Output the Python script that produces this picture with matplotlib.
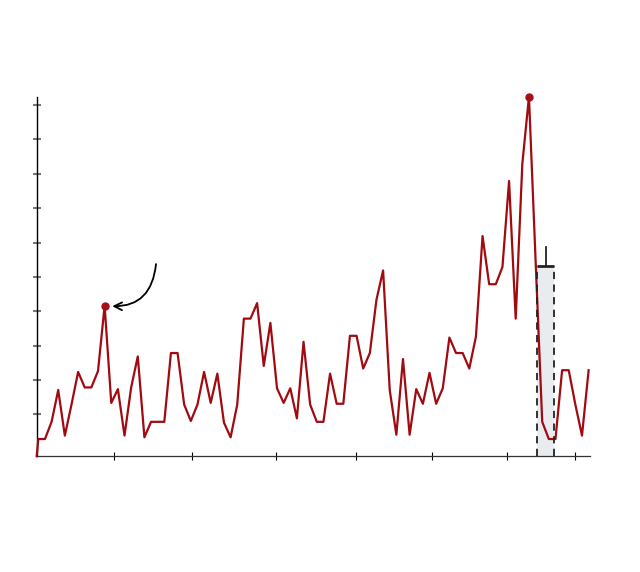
import numpy as np
import matplotlib.pyplot as plt

# weekly values (first point is the partial start)
x_values = [-0.25] + list(range(84))
y_values = [
    0.0,
    1.0, 1.0, 2.0, 3.85, 1.2, 3.0, 4.9, 4.0, 4.0, 4.95,
    8.75, 3.1, 3.9, 1.2, 4.0, 5.8, 1.1, 2.0, 2.0, 2.0,
    6.0, 6.0, 3.0, 2.05, 3.0, 4.9, 3.1, 4.8, 1.95, 1.1,
    3.0, 8.0, 8.0, 8.9, 5.25, 7.75, 3.95, 3.1, 3.95, 2.2,
    6.65, 3.0, 2.0, 2.0, 4.8, 3.05, 3.05, 7.0, 7.0, 5.1,
    6.0, 9.1, 10.8, 3.85, 1.25, 5.65, 1.25, 3.9, 3.05, 4.85,
    3.05, 3.95, 6.9, 6.0, 6.0, 5.1, 6.95, 12.8, 10.0, 10.0,
    11.0, 16.0, 8.0, 17.0, 20.9, 11.4, 2.0, 1.0, 1.0, 5.0,
    5.0, 3.0, 1.2, 5.0,
]

highlight_idx = [11, 75]  # marked points (annotated one, overall max)

bar_center = 76.5
bar_width = 2.6
bar_height = 11.08
bar_err = 1.07

x_ticks = [11.47, 23.24, 35.91, 47.94, 59.45, 70.68, 80.88]
y_ticks = [2.44, 4.44, 6.43, 8.43, 10.43, 12.42, 14.42, 16.42, 18.42, 20.42]

line_color = '#a00a10'

fig = plt.figure(figsize=(6.4, 5.72), dpi=100)
ax = fig.add_axes([0.0573, 0.2024, 0.8645, 0.6285])

ax.bar(bar_center, bar_height, width=bar_width, color='#e8ecef', zorder=1)
ax.plot([bar_center - bar_width / 2] * 2, [0, bar_height], color='#222222',
        lw=1.3, ls=(0, (4, 3)), zorder=4)
ax.plot([bar_center + bar_width / 2] * 2, [0, bar_height], color='#222222',
        lw=1.3, ls=(0, (4, 3)), zorder=4)
ax.plot([bar_center - bar_width / 2, bar_center + bar_width / 2], [bar_height] * 2,
        color='#222222', lw=2, zorder=4, solid_capstyle='butt')
ax.plot([bar_center, bar_center], [bar_height, bar_height + bar_err],
        color='#222222', lw=1.3, zorder=4)

ax.plot(x_values, y_values, color=line_color, lw=1.6, zorder=3, clip_on=False)
ax.plot([x_values[i] for i in highlight_idx], [y_values[i] for i in highlight_idx],
        'o', color='#a50f15', ms=5, zorder=5, clip_on=False)

i = highlight_idx[0]
ax.annotate('', xy=(x_values[i], y_values[i]), xytext=(37, 30),
            textcoords='offset points',
            arrowprops=dict(arrowstyle='->', color='black', lw=1.3,
                            connectionstyle='arc3,rad=-0.5',
                            shrinkA=0, shrinkB=5.5, mutation_scale=14))

ax.set_xlim(-0.25, 83.2)
ax.set_ylim(0, 20.9)
ax.set_xticks(x_ticks)
ax.set_yticks(y_ticks)
ax.set_xticklabels([])
ax.set_yticklabels([])

for side in ['top', 'right']:
    ax.spines[side].set_visible(False)
ax.spines['left'].set_color('black')
ax.spines['left'].set_linewidth(1.0)
ax.spines['bottom'].set_color('#333333')
ax.spines['bottom'].set_linewidth(0.9)

ax.tick_params(axis='x', direction='inout', length=6, width=0.8, color='black')
ax.tick_params(axis='y', direction='inout', length=6, width=1.5, color='#777777')

plt.savefig('out.png', dpi=100)
